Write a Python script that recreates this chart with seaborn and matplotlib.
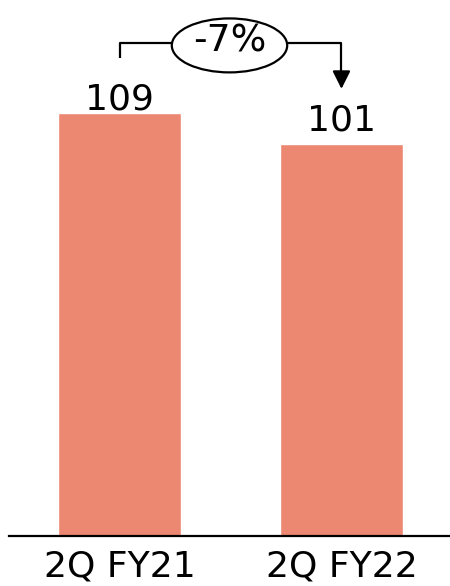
import matplotlib
matplotlib.use("Agg")
import matplotlib.pyplot as plt
from matplotlib.patches import Ellipse
import seaborn as sns
import pandas as pd

# Quarterly figures
periods = ["2Q FY21", "2Q FY22"]
values = [109, 101]
change_label = "-7%"
bar_color = "#EC8872"

sns.set_theme(style="white")
plt.rcParams["font.family"] = ["DejaVu Sans"]

df = pd.DataFrame({"period": periods, "value": values})

fig = plt.figure(figsize=(4.5, 5.86), dpi=100)
ax = fig.add_axes([0.02, 50 / 586, 0.98, 536 / 586])

sns.barplot(data=df, x="period", y="value", color=bar_color, saturation=1,
            width=0.554, ax=ax)

ax.set_xlim(-0.498, 1.489)
ax.set_ylim(0, 138.1)
ax.set_xlabel("")
ax.set_ylabel("")
ax.set_yticks([])
for side in ["top", "right", "left"]:
    ax.spines[side].set_visible(False)
ax.spines["bottom"].set_color("black")
ax.spines["bottom"].set_linewidth(1.6)
ax.tick_params(axis="x", length=0, pad=10, labelsize=26, labelcolor="black")

# Value labels above the bars
label_offsets = [0.8, 3.6]
for i, (v, off) in enumerate(zip(values, label_offsets)):
    ax.text(i, v + off, f"{v}", ha="center", va="baseline", fontsize=26,
            color="black")

# Change bracket: from the first bar to an arrow pointing at the second
bracket_y = 127.0
line_kw = dict(color="black", lw=1.6, solid_capstyle="butt")
ax.plot([0.002, 0.002, 0.241], [123.2, bracket_y, bracket_y], **line_kw)
ax.plot([0.759, 1.0, 1.0], [bracket_y, bracket_y, 119.0], **line_kw)
ax.annotate("", xy=(1.0, 115.2), xytext=(1.0, 119.5),
            arrowprops=dict(arrowstyle="-|>,head_length=0.6,head_width=0.3",
                            mutation_scale=18, color="black", lw=1.6,
                            shrinkA=0, shrinkB=0))
ax.add_patch(Ellipse((0.4955, 126.4), 0.52, 13.9, facecolor="white",
                     edgecolor="black", lw=1.6, zorder=3))
ax.text(0.4955, 126.4 + 1.0, change_label, ha="center", va="center",
        fontsize=27, color="black", zorder=4)

fig.savefig("out.png", dpi=100)
